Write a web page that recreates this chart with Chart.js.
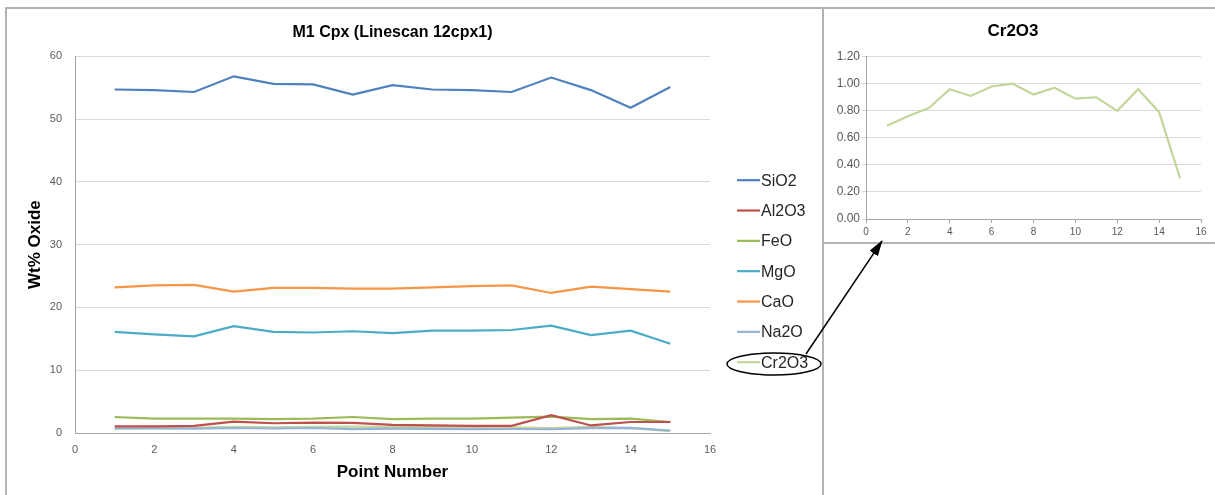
<!DOCTYPE html>
<html>
<head>
<meta charset="utf-8">
<script src="https://cdn.jsdelivr.net/npm/chart.js@4.4.0/dist/chart.umd.min.js"></script>
<style>
  body { margin: 0; background: #fff; width: 1215px; height: 495px; overflow: hidden; position: relative; font-family: "Liberation Sans", Arial, sans-serif; }
  .frame { position: absolute; box-sizing: border-box; border: 2px solid #b3b3b3; background: #fff; }
  #mainFrame { left: 5px; top: 7px; width: 819px; height: 500px; }
  #crFrame { left: 822px; top: 7px; width: 400px; height: 237px; }
  canvas { position: absolute; }
  #mainChart { left: 8px; top: 10px; }
  #crChart { left: 825px; top: 10px; }
  #marks { position: absolute; left: 0; top: 0; pointer-events: none; }
</style>
</head>
<body>
<div class="frame" id="mainFrame"></div>
<div class="frame" id="crFrame"></div>
<canvas id="mainChart" width="812" height="485"></canvas>
<canvas id="crChart" width="388" height="231"></canvas>
<svg id="marks" width="1215" height="495">
  <defs>
    <marker id="head" markerWidth="16" markerHeight="10" refX="15" refY="5" orient="auto" markerUnits="userSpaceOnUse">
      <path d="M0,0 L16,5 L0,10 z" fill="#000"/>
    </marker>
  </defs>
  <ellipse cx="774" cy="364" rx="47" ry="11" fill="none" stroke="#000" stroke-width="1.5"/>
  <line x1="806" y1="354" x2="882" y2="241" stroke="#000" stroke-width="1.5" marker-end="url(#head)"/>
</svg>
<script>
// point numbers along the linescan
var points = [1, 2, 3, 4, 5, 6, 7, 8, 9, 10, 11, 12, 13, 14, 15];

// oxide wt% per point
var sio2  = [54.7, 54.6, 54.3, 56.8, 55.6, 55.5, 53.9, 55.4, 54.7, 54.6, 54.3, 56.6, 54.6, 51.8, 55.1];
var al2o3 = [1.07, 1.05, 1.15, 1.80, 1.55, 1.65, 1.60, 1.30, 1.20, 1.15, 1.15, 2.85, 1.20, 1.75, 1.75];
var feo   = [2.55, 2.30, 2.30, 2.30, 2.20, 2.30, 2.55, 2.20, 2.30, 2.30, 2.45, 2.60, 2.20, 2.30, 1.75];
var mgo   = [16.1, 15.7, 15.4, 17.0, 16.1, 16.0, 16.2, 15.9, 16.3, 16.3, 16.4, 17.1, 15.6, 16.3, 14.2];
var cao   = [23.2, 23.5, 23.6, 22.5, 23.1, 23.1, 23.0, 23.0, 23.2, 23.4, 23.5, 22.3, 23.3, 22.9, 22.5];
var na2o  = [0.75, 0.72, 0.70, 0.80, 0.72, 0.80, 0.62, 0.70, 0.66, 0.62, 0.64, 0.60, 0.78, 0.82, 0.40];
var cr2o3 = [0.69, 0.76, 0.82, 0.96, 0.91, 0.98, 1.00, 0.92, 0.97, 0.89, 0.90, 0.80, 0.96, 0.79, 0.30];

var oxideNames = ['SiO2', 'Al2O3', 'FeO', 'MgO', 'CaO', 'Na2O', 'Cr2O3'];
var oxideValues = [sio2, al2o3, feo, mgo, cao, na2o, cr2o3];
var oxideColors = ['#4F81BD', '#C0504D', '#9BBB59', '#4BACC6', '#F79646', '#95B3D7', '#C3D69B'];

function toXY(values) {
  return values.map(function (v, i) { return { x: points[i], y: v }; });
}

var tickGrey = '#595959';
var gridGrey = '#d9d9d9';
var axisGrey = '#a6a6a6';

// key drawn to the right of the plot, one row per dataset
var sideKey = {
  id: 'sideKey',
  afterDraw: function (chart) {
    var ctx = chart.ctx;
    var area = chart.chartArea;
    var x0 = area.right + 27;
    var y0 = area.top + 124;
    ctx.save();
    ctx.font = '16px "Liberation Sans", Arial, sans-serif';
    ctx.textBaseline = 'middle';
    chart.data.datasets.forEach(function (ds, i) {
      var y = y0 + i * 30.33;
      ctx.strokeStyle = ds.borderColor;
      ctx.lineWidth = 2.2;
      ctx.beginPath();
      ctx.moveTo(x0, y);
      ctx.lineTo(x0 + 23, y);
      ctx.stroke();
      ctx.fillStyle = '#262626';
      ctx.fillText(ds.label, x0 + 24, y + 1);
    });
    ctx.restore();
  }
};

var mainDatasets = oxideNames.map(function (name, i) {
  return {
    label: name,
    data: toXY(oxideValues[i]),
    borderColor: oxideColors[i],
    backgroundColor: oxideColors[i],
    borderWidth: 2.2,
    pointRadius: 0,
    tension: 0
  };
});

new Chart(document.getElementById('mainChart'), {
  type: 'line',
  data: { datasets: mainDatasets },
  options: {
    responsive: false,
    animation: false,
    layout: { padding: { left: 0, right: 110, top: 0, bottom: 0 } },
    plugins: {
      legend: { display: false },
      tooltip: { enabled: false },
      title: {
        display: true,
        fullSize: false,
        text: 'M1 Cpx (Linescan 12cpx1)',
        color: '#000',
        font: { family: '"Liberation Sans", Arial, sans-serif', size: 16, weight: 'bold' },
        padding: { top: 13, bottom: 14 }
      }
    },
    scales: {
      x: {
        type: 'linear',
        min: 0,
        max: 16,
        ticks: { stepSize: 2, color: tickGrey, padding: 10, font: { family: '"Liberation Sans", Arial, sans-serif', size: 11 } },
        grid: { display: false, drawTicks: false },
        border: { display: true, color: axisGrey, width: 1 },
        title: {
          display: true,
          text: 'Point Number',
          color: '#000',
          font: { family: '"Liberation Sans", Arial, sans-serif', size: 17, weight: 'bold' },
          padding: { top: 0, bottom: 12 }
        },
        afterFit: function (scale) { scale.height = 62; }
      },
      y: {
        min: 0,
        max: 60,
        ticks: { stepSize: 10, color: tickGrey, padding: 13, font: { family: '"Liberation Sans", Arial, sans-serif', size: 11 } },
        grid: { color: gridGrey, drawTicks: false },
        border: { display: true, color: axisGrey, width: 1 },
        title: {
          display: true,
          text: 'Wt% Oxide',
          color: '#000',
          font: { family: '"Liberation Sans", Arial, sans-serif', size: 17, weight: 'bold' },
          padding: { top: 17, bottom: 0 }
        },
        afterFit: function (scale) { scale.width = 67; }
      }
    }
  },
  plugins: [sideKey]
});

// Cr2O3 on its own scale
new Chart(document.getElementById('crChart'), {
  type: 'line',
  data: {
    datasets: [{
      label: 'Cr2O3',
      data: toXY(cr2o3),
      borderColor: '#C3D69B',
      borderWidth: 2.2,
      pointRadius: 0,
      tension: 0
    }]
  },
  options: {
    responsive: false,
    animation: false,
    layout: { padding: { left: 0, right: 12, top: 0, bottom: 0 } },
    plugins: {
      legend: { display: false },
      tooltip: { enabled: false },
      title: {
        display: true,
        text: 'Cr2O3',
        color: '#000',
        font: { family: '"Liberation Sans", Arial, sans-serif', size: 17, weight: 'bold' },
        padding: { top: 11.5, bottom: 14.8 }
      }
    },
    scales: {
      x: {
        type: 'linear',
        min: 0,
        max: 16,
        ticks: { stepSize: 2, color: tickGrey, padding: 3, font: { family: '"Liberation Sans", Arial, sans-serif', size: 10 } },
        grid: { display: true, drawOnChartArea: false, tickLength: 4, color: axisGrey },
        border: { display: true, color: axisGrey, width: 1 },
        afterFit: function (scale) { scale.height = 22; }
      },
      y: {
        min: 0,
        max: 1.2,
        ticks: {
          stepSize: 0.2,
          color: tickGrey,
          padding: 2,
          font: { family: '"Liberation Sans", Arial, sans-serif', size: 12 },
          callback: function (v) { return v.toFixed(2); }
        },
        grid: { color: gridGrey, tickLength: 4 },
        border: { display: true, color: axisGrey, width: 1 },
        afterFit: function (scale) { scale.width = 41; }
      }
    }
  }
});
</script>
</body>
</html>
